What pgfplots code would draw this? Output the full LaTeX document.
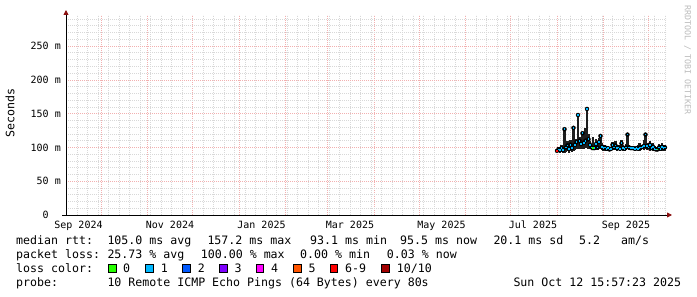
\documentclass[border=0pt]{standalone}
\usepackage{pgfplots}
\pgfplotsset{compat=1.18}
\usepackage{pgfplotstable}
\usetikzlibrary{arrows.meta}
\usepackage{fontspec}
\setmainfont{DejaVu Sans Mono}

\definecolor{lc0}{HTML}{26FF00}
\definecolor{lc1}{HTML}{00B8FF}
\definecolor{lc2}{HTML}{0059FF}
\definecolor{lc3}{HTML}{7E00FF}
\definecolor{lc4}{HTML}{FF00FF}
\definecolor{lc5}{HTML}{FF5500}
\definecolor{lc6}{HTML}{FF0000}
\definecolor{lc10}{HTML}{A10000}
\definecolor{mgrid}{HTML}{F2B0B0}
\definecolor{ngrid}{HTML}{D8D8D8}
\definecolor{smoke}{HTML}{1E1E1E}
\definecolor{arrowred}{HTML}{8B1010}
\definecolor{wmark}{HTML}{BBBBBB}

% day index counted from 1 Sep 2024; values in ms
\pgfplotstableread{
d lo med hi
334 93 95 96
335 93 97 101
336 92 96 100
337 93 99 104
338 92 96 102
339 92 127 127
340 93 100 104
341 94 103 109
342 92 98 108
343 94 104 111
344 93 99 106
345 95 129 129
346 96 104 110
347 97 108 113
348 100 148 148
349 97 110 116
350 98 105 112
351 97 121 121
352 98 107 118
353 99 110 129
354 100 157 160
355 98 112 120
356 99 104 110
357 97 100 104
358 98 99 116
359 96 99 104
360 97 105 112
361 96 100 106
362 98 108 114
363 97 117 117
364 96 101 107
365 95 99 103
366 96 100 104
367 95 98 101
368 95 99 102
369 96 97 100
370 95 98 101
371 96 104 108
372 97 100 107
373 96 103 110
374 95 99 102
375 96 100 104
376 95 98 101
377 96 106 111
378 95 99 103
379 95 98 100
380 96 100 105
381 97 119 119
382 96 100 104
383 96 99 101
384 96 99 100
385 96 99 100
386 95 98 100
387 96 99 101
388 96 98 103
389 95 99 106
390 96 100 102
391 97 101 104
392 96 102 111
393 97 119 119
394 96 102 106
395 97 100 107
396 95 104 109
397 96 99 103
398 95 101 106
399 96 98 102
400 94 97 100
401 94 97 99
402 95 100 105
403 95 98 104
404 96 101 106
405 95 99 104
406 95 100 103
}\smokedata

\begin{document}
\begin{tikzpicture}[
  lg/.style={anchor=base west, inner sep=0pt, font=\fontsize{11.6bp}{14bp}\selectfont},
  box/.style={draw=black, line width=0.6bp}]
\useasboundingbox (0,0) rectangle (697bp,297bp);
\begin{axis}[
  at={(66bp,82bp)}, anchor=south west,
  scale only axis, width=600bp, height=200bp,
  xmin=6.67, xmax=406.67, ymin=0, ymax=296,
  axis lines=left,
  x axis line style={line width=0.9bp, draw=black, shorten <=-4bp, shorten >=-6bp,
    -{Triangle[length=5bp,width=5bp,color=arrowred,fill=arrowred]}},
  y axis line style={line width=0.9bp, draw=black, shorten >=-5bp,
    -{Triangle[length=5bp,width=5bp,color=arrowred,fill=arrowred]}},
  major tick length=0pt, minor tick length=0pt,
  xtick={30,61,91,122,153,181,212,242,273,303,334,365,395},
  xticklabels=\empty,
  minor xtick={14,21,...,406},
  extra x ticks={15,76,137,196,257,318,380},
  extra x tick labels={Sep 2024,Nov 2024,Jan 2025,Mar 2025,May 2025,Jul 2025,Sep 2025},
  extra x tick style={grid=none, major tick length=0pt},
  ytick={0,50,100,150,200,250},
  yticklabels={0\hphantom{xx},50 m,100 m,150 m,200 m,250 m},
  minor ytick={10,20,...,290},
  grid=both,
  major grid style={draw=mgrid, line width=0.7bp, dash pattern=on 1bp off 1bp},
  minor grid style={draw=ngrid, line width=0.7bp, dash pattern=on 1bp off 1bp},
  ticklabel style={font=\fontsize{10bp}{12bp}\selectfont},
  xticklabel style={anchor=base, inner sep=0pt, yshift=-13.5bp},
  yticklabel style={anchor=east, inner sep=0pt, xshift=-5bp},
]
\addplot [only marks, mark=none,
  error bars/.cd, y dir=both, y explicit, error mark=none,
  error bar style={draw=smoke, line width=2.1bp}]
  table [x=d, y=med, y error plus expr=\thisrow{hi}-\thisrow{med},
         y error minus expr=\thisrow{med}-\thisrow{lo}] {\smokedata};
\addplot [only marks, mark=-, mark size=0.9bp, lc1, mark options={line width=1.8bp}]
  table [x=d, y=med] {\smokedata};
\addplot [only marks, mark=-, mark size=0.9bp, lc6, mark options={line width=1.8bp}]
  coordinates {(334,95)};
\addplot [only marks, mark=-, mark size=0.9bp, lc0, mark options={line width=1.8bp}]
  coordinates {(358,99) (401,97)};
\end{axis}

\node[rotate=90, inner sep=0pt, font=\fontsize{11.6bp}{14bp}\selectfont] at (10bp,184bp) {Seconds};
\node[rotate=-90, inner sep=0pt, text=wmark, font=\fontsize{8.3bp}{10bp}\selectfont] at (687.5bp,237bp) {RRDTOOL / TOBI OETIKER};

% legend line 1
\node[lg] at (16bp,52.3bp) {median rtt:};
\node[lg] at (107.3bp,52.3bp) {105.0 ms avg};
\node[lg] at (207.3bp,52.3bp) {157.2 ms max};
\node[lg] at (310bp,52.3bp) {93.1 ms min};
\node[lg] at (400bp,52.3bp) {95.5 ms now};
\node[lg] at (493.3bp,52.3bp) {20.1 ms sd};
\node[lg] at (579bp,52.3bp) {5.2};
\node[lg] at (621bp,52.3bp) {am/s};
% legend line 2
\node[lg] at (16bp,38.3bp) {packet loss:};
\node[lg] at (107.3bp,38.3bp) {25.73 \% avg};
\node[lg] at (200.7bp,38.3bp) {100.00 \% max};
\node[lg] at (300bp,38.3bp) {0.00 \% min};
\node[lg] at (386.7bp,38.3bp) {0.03 \% now};
% legend line 3
\node[lg] at (16bp,24.3bp) {loss color:};
\draw[box, fill=lc0] (108.3bp,25bp) rectangle ++(7.5bp,7.5bp);
\node[lg] at (123bp,24.3bp) {0};
\draw[box, fill=lc1] (145.7bp,25bp) rectangle ++(7.5bp,7.5bp);
\node[lg] at (160.7bp,24.3bp) {1};
\draw[box, fill=lc2] (182.7bp,25bp) rectangle ++(7.5bp,7.5bp);
\node[lg] at (197.7bp,24.3bp) {2};
\draw[box, fill=lc3] (219.3bp,25bp) rectangle ++(7.5bp,7.5bp);
\node[lg] at (234.3bp,24.3bp) {3};
\draw[box, fill=lc4] (256bp,25bp) rectangle ++(7.5bp,7.5bp);
\node[lg] at (271bp,24.3bp) {4};
\draw[box, fill=lc5] (293.3bp,25bp) rectangle ++(7.5bp,7.5bp);
\node[lg] at (308.3bp,24.3bp) {5};
\draw[box, fill=lc6] (330bp,25bp) rectangle ++(7.5bp,7.5bp);
\node[lg] at (345bp,24.3bp) {6-9};
\draw[box, fill=lc10] (381.7bp,25bp) rectangle ++(7.5bp,7.5bp);
\node[lg] at (396.7bp,24.3bp) {10/10};
% legend line 4
\node[lg] at (16bp,10.1bp) {probe:};
\node[lg] at (107.3bp,10.1bp) {10 Remote ICMP Echo Pings (64 Bytes) every 80s};
\node[lg] at (513.3bp,10.1bp) {Sun Oct 12 15:57:23 2025};
\end{tikzpicture}
\end{document}
